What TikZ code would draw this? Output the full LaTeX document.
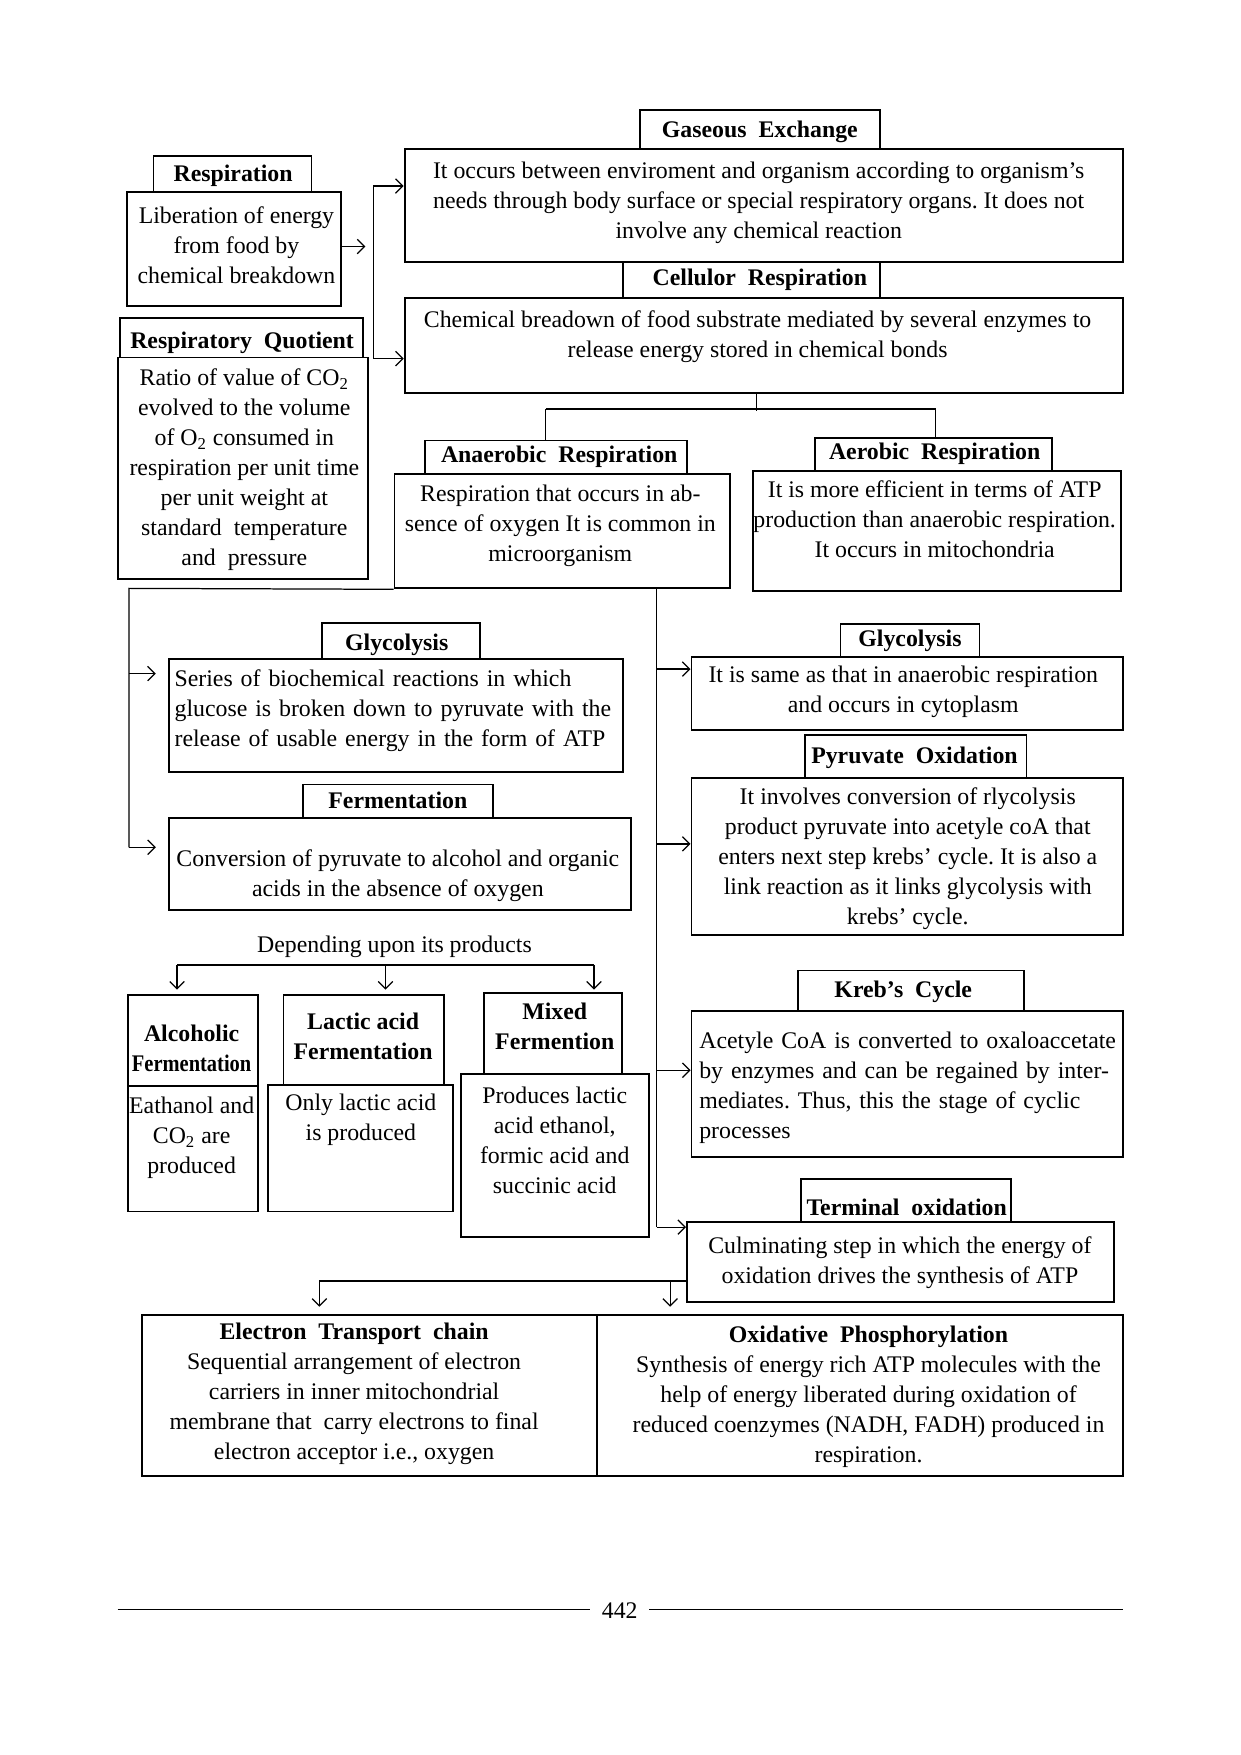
\documentclass[tikz,border=0pt]{standalone}
\usepackage{fontspec}
\usepackage{graphicx}
\setmainfont{Liberation Serif}
\usetikzlibrary{arrows.meta,fit}
\newcommand\bx[3]{\node[box, fit={#2 #3}] (#1) {};}
\newcommand\jline[1]{\makebox[\linewidth][s]{#1}}
\begin{document}
\begin{tikzpicture}[x=0.5411pt,y=-0.5411pt,
  font=\fontsize{11.5}{14.5}\selectfont\frenchspacing,
  box/.style={draw, line width=0.9pt, inner sep=0pt},
  txt/.style={align=center, inner sep=0pt, yshift=-1.4pt},
  ttl/.style={align=center, inner sep=0pt, yshift=-1.2pt, font=\fontsize{11.5}{14.5}\selectfont\bfseries},
  conn/.style={line width=0.6pt},
  arr/.style={line width=0.6pt, -{Straight Barb[length=3.5pt,width=7pt]}},
]
\useasboundingbox (0,0) rectangle (1107,1566);

% ---- boxes ----
\bx{respt}{(137,139)}{(278,171)}
\bx{respb}{(113,171)}{(304,273)}
\bx{rqt}{(107,284)}{(324,319)}
\bx{rqb}{(105,319)}{(328,517)}
\bx{gast}{(571,98)}{(785,133)}
\bx{gasb}{(361,133)}{(1002,234)}
\bx{cellt}{(556,234)}{(785,266)}
\bx{cellb}{(361,266)}{(1002,351)}
\bx{anaert}{(379,393)}{(613,423)}
\bx{anaerb}{(352,423)}{(651,525)}
\bx{aert}{(727,391)}{(939,420)}
\bx{aerb}{(672,420)}{(1000,527)}
\bx{glyLt}{(287,556)}{(428,588)}
\bx{glyLb}{(151,588)}{(556,689)}
\bx{fermt}{(270,700)}{(440,730)}
\bx{fermb}{(151,730)}{(563,812)}
\bx{alct}{(114,888)}{(230,969)}
\bx{alcb}{(114,969)}{(230,1081)}
\bx{lact}{(253,888)}{(396,968)}
\bx{lacb}{(239,968)}{(404,1081)}
\bx{mixt}{(432,886)}{(555,958)}
\bx{mixb}{(411,958)}{(579,1104)}
\bx{glyRt}{(750,557)}{(874,586)}
\bx{glyRb}{(617,586)}{(1002,651)}
\bx{pyrt}{(718,656)}{(916,694)}
\bx{pyrb}{(617,694)}{(1002,834)}
\bx{krbt}{(712,866)}{(914,902)}
\bx{krbb}{(617,902)}{(1002,1032)}
\bx{termt}{(715,1052)}{(902,1090)}
\bx{termb}{(613,1090)}{(994,1162)}
\bx{etc}{(127,1173)}{(533,1317)}
\bx{oxp}{(533,1173)}{(1002,1317)}

% ---- texts ----
\node[ttl] (respt-t) at (208,155) {Respiration};
\node[txt] (respb-t) at (211,216) {Liberation of energy\\from food by\\chemical breakdown};
\node[ttl] (rqt-t) at (216,304) {Respiratory\ \ Quotient};
\node[txt] (rqb-t) at (218,416.5) {Ratio of value of CO\textsubscript{2}\\evolved to the volume\\of O\textsubscript{2} consumed in\\respiration per unit time\\per unit weight at\\standard\ \ temperature\\and\ \ pressure};
\node[ttl] (gast-t) at (678,115) {Gaseous\ \ Exchange};
\node[txt] (gasb-t) at (677,178.5) {It occurs between enviroment and organism according to organism’s\\needs through body surface or special respiratory organs. It does not\\involve any chemical reaction};
\node[ttl] (cellt-t) at (678,247) {Cellulor\ \ Respiration};
\node[txt] (cellb-t) at (676,298) {Chemical breadown of food substrate mediated by several enzymes to\\release energy stored in chemical bonds};
\node[ttl] (anaert-t) at (499,405) {Anaerobic\ \ Respiration};
\node[txt] (anaerb-t) at (500,466.5) {Respiration that occurs in ab-\\sence of oxygen It is common in\\microorganism};
\node[ttl] (aert-t) at (834,403) {Aerobic\ \ Respiration};
\node[txt] (aerb-t) at (834,461) {It is more efficient in terms of ATP\\production than anaerobic respiration.\\It occurs in mitochondria};
\node[ttl] (glyLt-t) at (354,573) {Glycolysis};
\node[txt, align=left, text width=214.5pt] (glyLb-t) at (354,631.5) {\jline{Series of biochemical reactions in which}\\\jline{glucose is broken down to pyruvate with the}\\release of usable energy in the form of ATP};
\node[ttl] (fermt-t) at (355,712) {Fermentation};
\node[txt] (fermb-t) at (355,779) {Conversion of pyruvate to alcohol and organic\\acids in the absence of oxygen};
\node[txt] (dep) at (352,842) {Depending upon its products};
\node[ttl] (alct-t) at (171,933.5) {Alcoholic\\\scalebox{0.86}[1]{Fermentation}};
\node[txt] (alcb-t) at (171,1013) {Eathanol and\\CO\textsubscript{2} are\\produced};
\node[ttl] (lact-t) at (324,922.5) {Lactic acid\\Fermentation};
\node[txt] (lacb-t) at (322,996.5) {Only lactic acid\\is produced};
\node[ttl] (mixt-t) at (495,914) {Mixed\\Fermention};
\node[txt] (mixb-t) at (495,1015) {Produces lactic\\acid ethanol,\\formic acid and\\succinic acid};
\node[ttl] (glyRt-t) at (812,570) {Glycolysis};
\node[txt] (glyRb-t) at (806,614.5) {It is same as that in anaerobic respiration\\and occurs in cytoplasm};
\node[ttl] (pyrt-t) at (816,674) {Pyruvate\ \ Oxidation};
\node[txt] (pyrb-t) at (810,764) {It involves conversion of rlycolysis\\product pyruvate into acetyle coA that\\enters next step krebs’ cycle. It is also a\\link reaction as it links glycolysis with\\krebs’ cycle.};
\node[ttl] (krbt-t) at (806,883) {Kreb’s\ \ Cycle};
\node[txt, align=left, text width=196.4pt] (krbb-t) at (805.5,968) {\jline{Acetyle CoA is converted to oxaloaccetate}\\\jline{by enzymes and can be regained by inter-}\\\jline{mediates. Thus, this the stage of cyclic}\\processes};
\node[ttl] (termt-t) at (809,1075) {Terminal\ \ oxidation};
\node[txt] (termb-t) at (803,1124) {Culminating step in which the energy of\\oxidation drives the synthesis of ATP};
\node[txt] (etc-t) at (316,1241) {{\bfseries Electron\ \ Transport\ \ chain}\\Sequential arrangement of electron\\carriers in inner mitochondrial\\membrane that\ \ carry electrons to final\\electron acceptor i.e., oxygen};
\node[txt] (oxp-t) at (775,1244) {{\bfseries Oxidative\ \ Phosphorylation}\\Synthesis of energy rich ATP molecules with the\\help of energy liberated during oxidation of\\reduced coenzymes (NADH, FADH) produced in\\respiration.};

% ---- connectors ----
\coordinate (ra) at (326,220);
\draw[arr] (respb.east |- ra) -- (ra);

\coordinate (vt) at (333,166);
\coordinate (vb) at (333,320);
\draw[conn] (vt) -- (vb);
\draw[arr] (vt) -- (gasb.west |- vt);
\draw[arr] (vb) -- (cellb.west |- vb);

\coordinate (cj) at (675,367);
\coordinate (cl) at (487,365);
\coordinate (cr) at (835,365);
\draw[conn] (cellb.south -| cj) -- (cj);
\draw[conn] (cl) -- (cr);
\draw[conn] (cl) -- (anaert.north -| cl);
\draw[conn] (cr) -- (aert.north -| cr);

\coordinate (ll) at (115,525);
\coordinate (lm) at (115,601);
\coordinate (lb) at (115,756);
\coordinate (la1) at (139,601);
\coordinate (la2) at (139,756);
\draw[conn] (anaerb.south west) -- (ll) -- (lb);
\draw[arr] (lm) -- (la1);
\draw[arr] (lb) -- (la2);

\coordinate (rt) at (586,525);
\coordinate (rb) at (586,1095);
\coordinate (r1) at (586,597);
\coordinate (r2) at (586,753);
\coordinate (r3) at (586,955);
\draw[conn] (rt) -- (rb);
\draw[arr] (r1) -- (glyRb.west |- r1);
\draw[arr] (r2) -- (pyrb.west |- r2);
\draw[arr] (r3) -- (krbb.west |- r3);
\draw[arr] (rb) -- (termb.west |- rb);

\coordinate (d1) at (158,861);
\coordinate (d2) at (344,861);
\coordinate (d3) at (530,861);
\coordinate (e1) at (158,883);
\coordinate (e2) at (344,883);
\coordinate (e3) at (530,883);
\draw[conn] (d1) -- (d3);
\draw[arr] (d1) -- (e1);
\draw[arr] (d2) -- (e2);
\draw[arr] (d3) -- (e3);

\coordinate (b0) at (613,1143);
\coordinate (b1) at (285,1143);
\coordinate (b2) at (598,1143);
\coordinate (f1) at (285,1166);
\coordinate (f2) at (598,1166);
\draw[conn] (termb.west |- b0) -- (b1);
\draw[arr] (b1) -- (f1);
\draw[arr] (b2) -- (f2);

% ---- footer ----
\node[txt, inner sep=5.4pt] (pg) at (553,1435) {442};
\coordinate (fl) at (105,1436);
\coordinate (fr) at (1002,1436);
\draw[conn] (fl) -- (pg.west |- fl);
\draw[conn] (pg.east |- fr) -- (fr);
\end{tikzpicture}
\end{document}
